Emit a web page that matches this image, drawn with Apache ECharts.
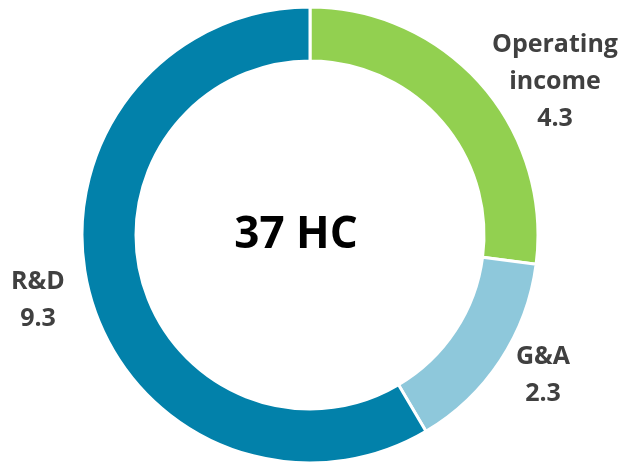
<!DOCTYPE html>
<html>
<head>
<meta charset="utf-8">
<script src="https://cdn.jsdelivr.net/npm/echarts@6/dist/echarts.min.js"></script>
<style>
  html, body { margin: 0; padding: 0; background: #ffffff; }
  #chart { width: 625px; height: 465px; }
</style>
</head>
<body>
<div id="chart"></div>
<script>
// Headcount split by function
const categories = ['Operating\nincome', 'G&A', 'R&D'];
const values = [4.3, 2.3, 9.3];
const sliceColors = ['#92D050', '#8EC8DB', '#0281AA'];
const centerText = '37 HC';

// Label anchor points for each slice (pixels)
const labelSpots = [
  { x: 555, y: 82, align: 'center' },
  { x: 543, y: 375, align: 'center' },
  { x: 38, y: 300, align: 'center' }
];

const chart = echarts.init(document.getElementById('chart'), null, { renderer: 'canvas' });

chart.setOption({
  backgroundColor: '#ffffff',
  animation: false,
  graphic: [{
    type: 'text',
    x: 296,
    y: 235,
    style: {
      text: centerText,
      font: 'bold 44px "Open Sans"',
      fill: '#000000',
      align: 'center',
      verticalAlign: 'middle'
    }
  }],
  series: [{
    type: 'pie',
    center: [310, 235],
    radius: [174, 228],
    startAngle: 90,
    clockwise: true,
    avoidLabelOverlap: false,
    itemStyle: { borderColor: '#ffffff', borderWidth: 3 },
    label: {
      show: true,
      position: 'outside',
      formatter: p => p.name + '\n' + p.value,
      fontFamily: 'Open Sans',
      fontWeight: 'bold',
      fontSize: 25,
      lineHeight: 37,
      color: '#404040',
      align: 'center'
    },
    labelLine: { show: false },
    labelLayout: p => {
      const s = labelSpots[p.dataIndex];
      return { x: s.x, y: s.y, align: s.align, verticalAlign: 'middle' };
    },
    data: categories.map((c, i) => ({
      name: c,
      value: values[i],
      itemStyle: { color: sliceColors[i] }
    }))
  }]
});
</script>
</body>
</html>
